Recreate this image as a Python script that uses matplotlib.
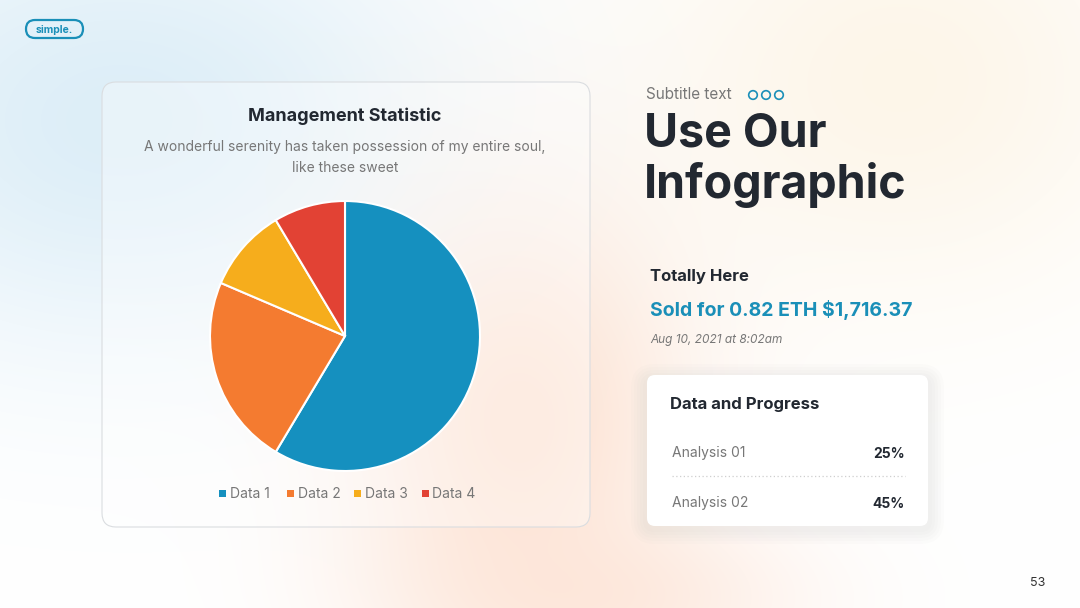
import numpy as np
import matplotlib
matplotlib.use("Agg")
import matplotlib.pyplot as plt
from matplotlib.patches import FancyBboxPatch, Circle, Rectangle

# chart data
labels = ["Data 1", "Data 2", "Data 3", "Data 4"]
values = [8.2, 3.2, 1.4, 1.2]
colors = ["#1590bf", "#f47b30", "#f6ad1c", "#e24234"]

analysis_names = ["Analysis 01", "Analysis 02"]
analysis_pct = ["25%", "45%"]

FONT = "Inter"
DARK = "#222831"
GRAY = "#777777"
TEAL = "#1a8fb8"

W, H = 1080, 608
fig = plt.figure(figsize=(W / 100, H / 100), dpi=100)

# background with soft glows
bg = fig.add_axes([0, 0, 1, 1])
bg.set_xlim(0, W)
bg.set_ylim(H, 0)
bg.axis("off")
yy, xx = np.mgrid[0:H, 0:W]
img = np.ones((H, W, 3))
def glow(cx, cy, sx, sy, col, amt):
    g = np.exp(-(((xx - cx) / sx) ** 2 + ((yy - cy) / sy) ** 2)) * amt
    for c in range(3):
        img[:, :, c] = img[:, :, c] * (1 - g) + col[c] * g
glow(120, 120, 330, 230, (0.86, 0.93, 0.97), 0.95)
glow(520, 420, 170, 230, (0.99, 0.87, 0.80), 0.85)
glow(900, 80, 260, 220, (0.99, 0.95, 0.88), 0.7)
glow(600, 600, 200, 80, (0.99, 0.88, 0.82), 0.6)
bg.imshow(img, extent=[0, W, H, 0], zorder=0)

def txt(x, y, s, **kw):
    # small nudge so va=center lines up with the reference text
    kw.setdefault("va", "center")
    kw.setdefault("family", FONT)
    kw.setdefault("zorder", 3)
    return bg.text(x, y + 1.5, s, **kw)

# left card
card = FancyBboxPatch((102, 82), 488, 445, boxstyle="round,pad=0,rounding_size=14",
                      fc=(1, 1, 1, 0.35), ec="#dadde0", lw=0.8, zorder=1)
bg.add_patch(card)
txt(345, 115, "Management Statistic", ha="center", fontsize=13,
    fontweight="bold", color=DARK)
txt(345, 145, "A wonderful serenity has taken possession of my entire soul,",
    ha="center", fontsize=10, color=GRAY)
txt(345, 166, "like these sweet", ha="center", fontsize=10, color=GRAY)

# pie
r = 135
pax = fig.add_axes([(345 - r) / W, 1 - (336 + r) / H, 2 * r / W, 2 * r / H])
pax.pie(values, colors=colors, startangle=90, counterclock=False,
        wedgeprops=dict(edgecolor="white", linewidth=1.5))
pax.set_aspect("equal")
pax.set_xlim(-1, 1)
pax.set_ylim(-1, 1)
pax.axis("off")

# legend
lx = 219
for lab, col in zip(labels, colors):
    bg.add_patch(Rectangle((lx, 489.5), 7, 7, fc=col, ec="none", zorder=3))
    txt(lx + 11, 493, lab, ha="left", fontsize=10, color=GRAY)
    lx += 67.5

# logo pill
bg.add_patch(FancyBboxPatch((26, 20), 57, 18, boxstyle="round,pad=0,rounding_size=9",
                            fc="none", ec=TEAL, lw=1.6, zorder=3))
txt(54.5, 28.5, "simple.", ha="center", fontsize=7.5, fontweight="bold", color=TEAL)

# right side text
txt(646, 93, "Subtitle text", ha="left", fontsize=11, color=GRAY)
for cx in (753, 766, 779):
    bg.add_patch(Circle((cx, 95), 4.3, fc="none", ec=TEAL, lw=1.2, zorder=3))
txt(644, 133, "Use Our", ha="left", fontsize=33.5, fontweight="bold", color=DARK)
txt(644, 183, "Infographic", ha="left", fontsize=33.5, fontweight="bold", color=DARK)
txt(650, 275, "Totally Here", ha="left", fontsize=12, fontweight="bold", color=DARK)
txt(650, 309, "Sold for 0.82 ETH $1,716.37", ha="left", fontsize=14,
    fontweight="bold", color=TEAL)
txt(650, 338, "Aug 10, 2021 at 8:02am", ha="left", fontsize=8.5,
    style="italic", color=GRAY)

# progress card with soft shadow
for i in range(5):
    p = 16 - i * 3
    bg.add_patch(FancyBboxPatch((647 - p, 380 - p), 281 + 2 * p, 148 + 2 * p,
                                boxstyle="round,pad=0,rounding_size=%d" % (8 + p),
                                fc=(0.55, 0.55, 0.55, 0.018), ec="none", zorder=2))
bg.add_patch(FancyBboxPatch((647, 375), 281, 151, boxstyle="round,pad=0,rounding_size=8",
                            fc="white", ec="none", zorder=2))
txt(670, 403, "Data and Progress", ha="left", fontsize=12, fontweight="bold", color=DARK)
rows_y = [452, 502]
for name, pct, y in zip(analysis_names, analysis_pct, rows_y):
    txt(672, y, name, ha="left", fontsize=10, color=GRAY)
    txt(905, y, pct, ha="right", fontsize=10, fontweight="bold", color=DARK)
bg.plot([672, 905], [476, 476], color="#cfcfcf", lw=0.9, ls=(0, (1, 2)), zorder=3)

txt(1038, 582, "53", ha="center", fontsize=9, color="#333333")

fig.savefig("out.png", dpi=100)
